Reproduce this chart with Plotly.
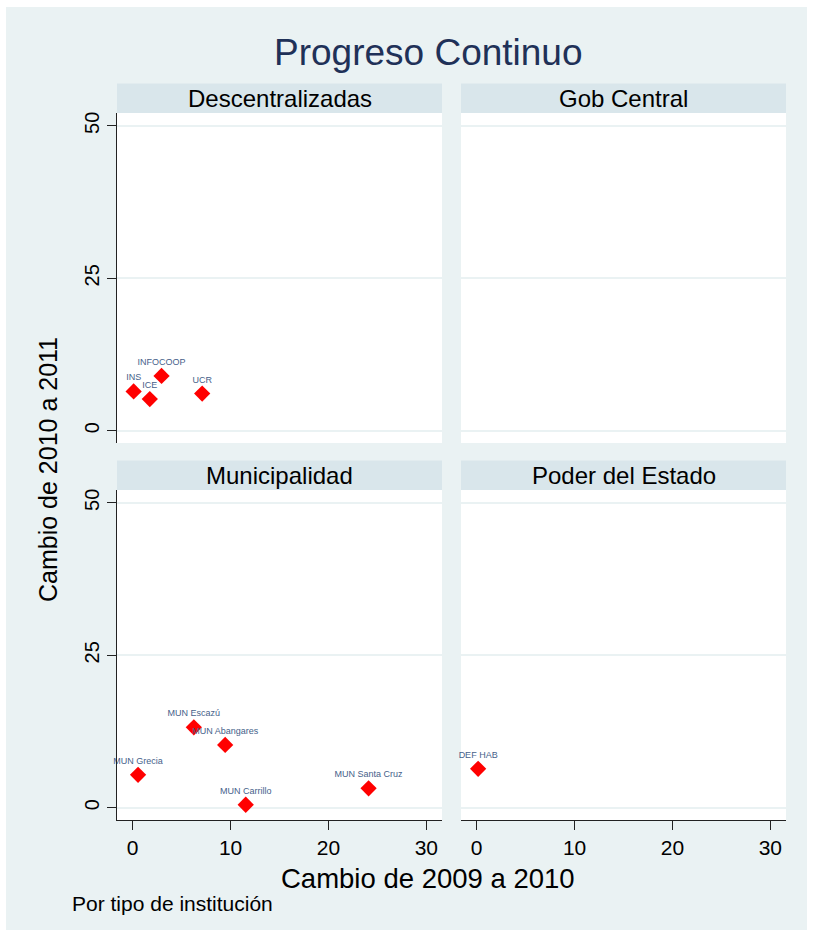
import plotly.graph_objects as go

# --- data -----------------------------------------------------------------
panel_names = ["Descentralizadas", "Gob Central", "Municipalidad", "Poder del Estado"]

desc_labels = ["INS", "ICE", "INFOCOOP", "UCR"]
desc_x = [0.1, 1.75, 2.95, 7.1]
desc_y = [6.45, 5.2, 9.0, 6.1]

gob_labels = []
gob_x = []
gob_y = []

mun_labels = ["MUN Escazú", "MUN Abangares", "MUN Grecia", "MUN Carrillo", "MUN Santa Cruz"]
mun_x = [6.25, 9.45, 0.55, 11.55, 24.1]
mun_y = [13.2, 10.3, 5.4, 0.5, 3.2]

pod_labels = ["DEF HAB"]
pod_x = [0.15]
pod_y = [6.4]

x_ticks = [0, 10, 20, 30]
y_ticks = [0, 25, 50]

# --- styling --------------------------------------------------------------
W, H = 813, 937
BG = "#EAF2F3"
STRIP = "#D9E6EB"
NAVY = "#1f3158"
LABEL = "#46618a"
FONT = "Liberation Sans, Arial, sans-serif"

def px_x(v):
    return v / W

def px_y(v):
    return 1 - v / H

col_dom = [[px_x(117), px_x(442)], [px_x(461), px_x(786)]]
row_dom = [[px_y(443), px_y(113)], [px_y(820), px_y(490)]]
strip_dom = [[px_y(113), px_y(83.5)], [px_y(490), px_y(460.5)]]

X_RANGE = [-1.6, 31.6]
Y_RANGE = [-2.0, 52.1]

fig = go.Figure()

series = [
    (desc_labels, desc_x, desc_y),
    (gob_labels, gob_x, gob_y),
    (mun_labels, mun_x, mun_y),
    (pod_labels, pod_x, pod_y),
]

for i, (lab, xs, ys) in enumerate(series):
    n = "" if i == 0 else str(i + 1)
    fig.add_trace(go.Scatter(
        x=xs, y=ys, text=lab, mode="markers+text",
        textposition="top center",
        textfont=dict(family=FONT, size=9, color=LABEL),
        marker=dict(symbol="diamond", size=12.5, color="#ff0000",
                    line=dict(width=0)),
        xaxis="x" + n, yaxis="y" + n, showlegend=False, cliponaxis=False,
    ))

layout = dict(
    width=W, height=H,
    margin=dict(l=0, r=0, t=0, b=0),
    paper_bgcolor=BG, plot_bgcolor="white",
    showlegend=False,
    font=dict(family=FONT, color="black"),
)

for i in range(4):
    r, c = divmod(i, 2)
    n = "" if i == 0 else str(i + 1)
    bottom = r == 1
    left = c == 0
    layout["xaxis" + n] = dict(
        domain=col_dom[c], range=X_RANGE, anchor="y" + n,
        showgrid=False, zeroline=False,
        showline=bottom, linecolor="#222", linewidth=1.3,
        ticks="outside" if bottom else "", ticklen=9, tickwidth=1.2, tickcolor="#222",
        tickvals=x_ticks, showticklabels=bottom,
        tickfont=dict(family=FONT, size=21, color="black"),
        fixedrange=True,
    )
    layout["yaxis" + n] = dict(
        domain=row_dom[r], range=Y_RANGE, anchor="x" + n,
        showgrid=True, gridcolor=BG, gridwidth=1.6, zeroline=False,
        showline=left, linecolor="#222", linewidth=1.3,
        ticks="outside" if left else "", ticklen=9, tickwidth=1.2, tickcolor="#222",
        tickvals=y_ticks, showticklabels=left, tickangle=-90,
        tickfont=dict(family=FONT, size=20, color="black"),
        fixedrange=True,
    )

shapes = []
annotations = []

# panel header strips
for i, name in enumerate(panel_names):
    r, c = divmod(i, 2)
    shapes.append(dict(type="rect", xref="paper", yref="paper",
                       x0=col_dom[c][0], x1=col_dom[c][1],
                       y0=strip_dom[r][0], y1=strip_dom[r][1],
                       fillcolor=STRIP, line=dict(width=0), layer="below"))
    annotations.append(dict(text=name, xref="paper", yref="paper",
                            x=(col_dom[c][0] + col_dom[c][1]) / 2,
                            y=(strip_dom[r][0] + strip_dom[r][1]) / 2,
                            xanchor="center", yanchor="middle", showarrow=False,
                            font=dict(family=FONT, size=24, color="black")))

# thin white frame around the graph region
for x0, x1, y0, y1 in [(0, 6, 0, H), (0, W, 0, 7), (807, W, 0, H), (0, W, 930, H)]:
    shapes.append(dict(type="rect", xref="paper", yref="paper",
                       x0=px_x(x0), x1=px_x(x1), y0=px_y(y1), y1=px_y(y0),
                       fillcolor="white", line=dict(width=0), layer="above"))

annotations += [
    dict(text="Progreso Continuo", xref="paper", yref="paper",
         x=px_x(428), y=px_y(52), xanchor="center", yanchor="middle",
         showarrow=False, font=dict(family=FONT, size=37, color=NAVY)),
    dict(text="Cambio de 2009 a 2010", xref="paper", yref="paper",
         x=px_x(428), y=px_y(878), xanchor="center", yanchor="middle",
         showarrow=False, font=dict(family=FONT, size=27.5, color="black")),
    dict(text="Cambio de 2010 a 2011", xref="paper", yref="paper",
         x=px_x(48), y=px_y(470), xanchor="center", yanchor="middle",
         textangle=-90, showarrow=False,
         font=dict(family=FONT, size=25, color="black")),
    dict(text="Por tipo de institución", xref="paper", yref="paper",
         x=px_x(70), y=px_y(903), xanchor="left", yanchor="middle",
         showarrow=False, font=dict(family=FONT, size=21, color="black")),
]

layout["shapes"] = shapes
layout["annotations"] = annotations
fig.update_layout(**layout)

fig.write_html("out.html")
